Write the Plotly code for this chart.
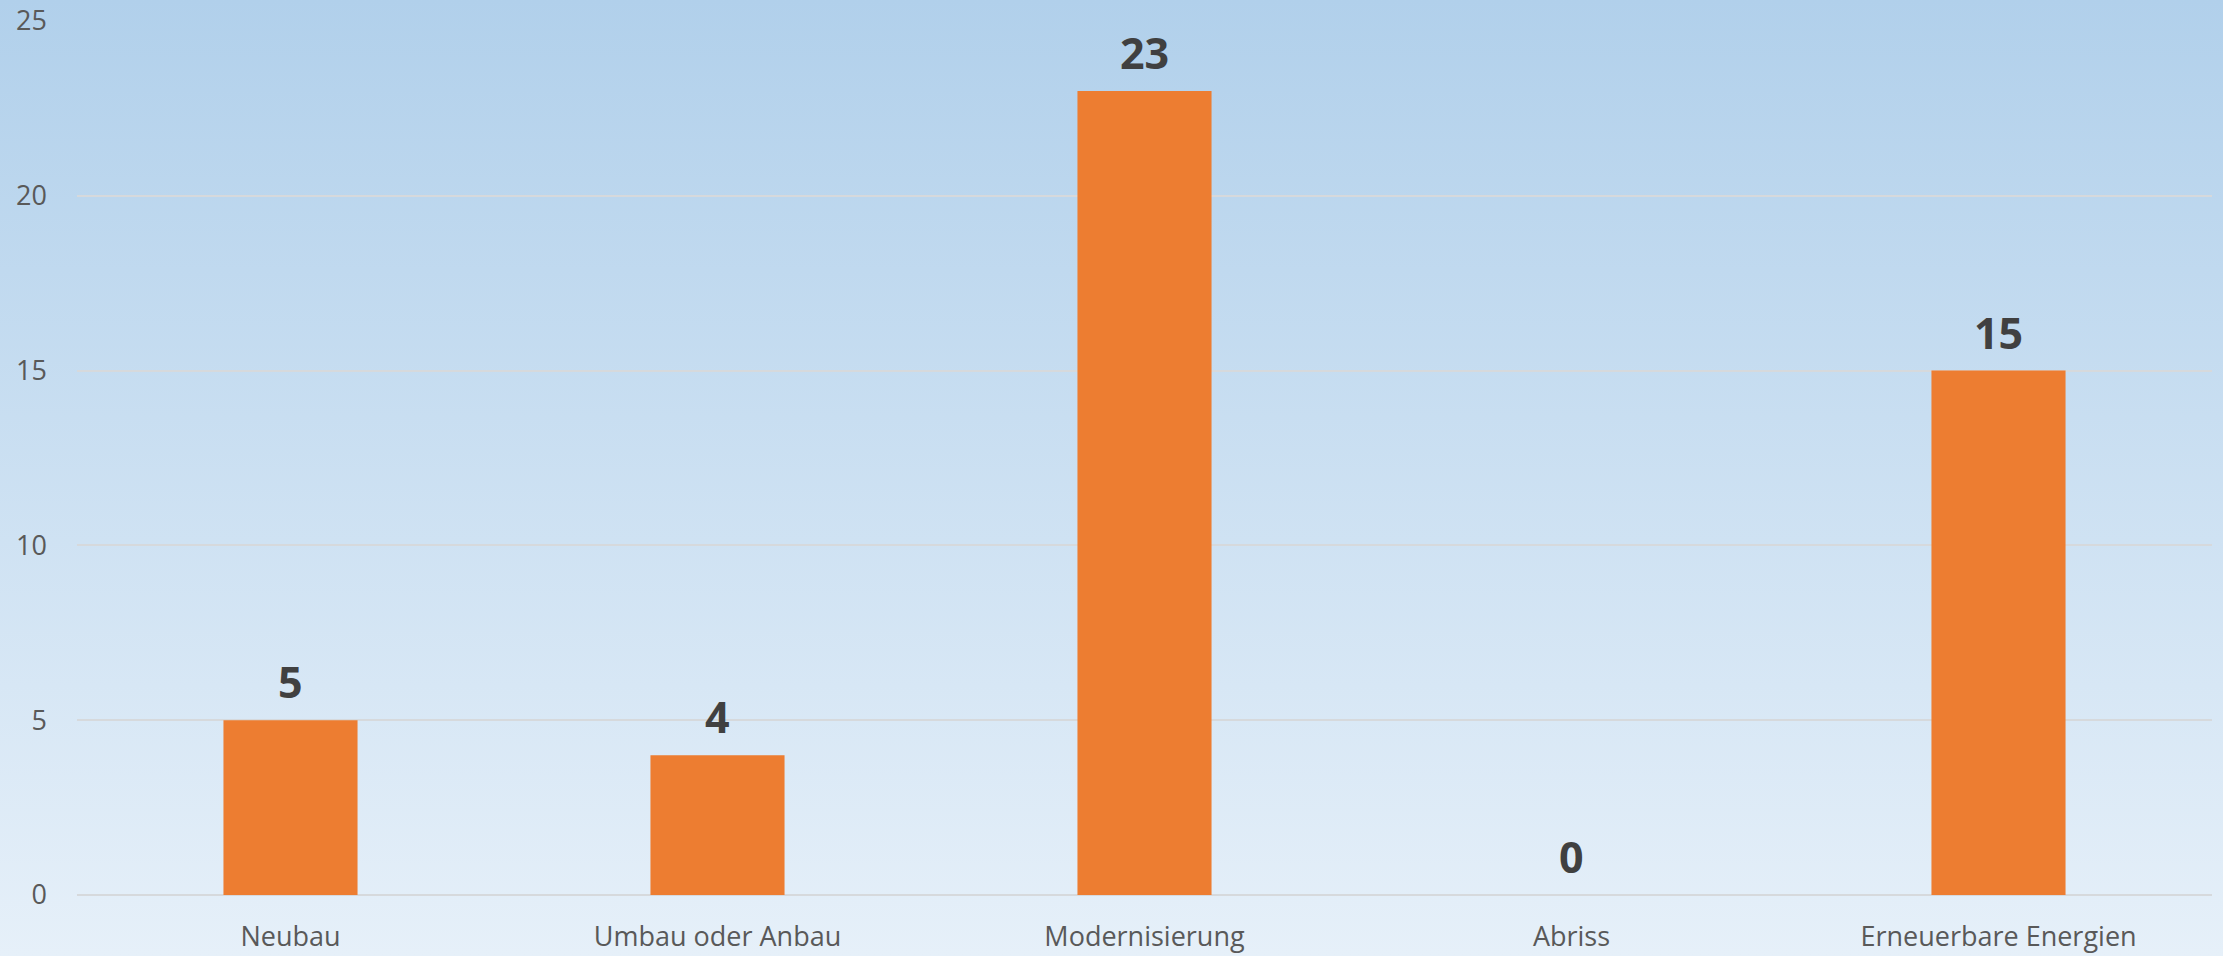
import plotly.graph_objects as go

categories = ["Neubau", "Umbau oder Anbau", "Modernisierung", "Abriss", "Erneuerbare Energien"]
values = [5, 4, 23, 0, 15]
y_ticks = [0, 5, 10, 15, 20, 25]

ml, mr, mt, mb = 77, 11, 21, 61

fig = go.Figure(
    go.Bar(
        x=categories,
        y=values,
        marker=dict(color="#ed7d31", line=dict(width=0)),
        width=0.314,
        hoverinfo="x+y",
    )
)

annotations = [
    dict(
        x=c,
        y=v,
        xref="x",
        yref="y",
        text=f"<b>{v}</b>",
        showarrow=False,
        yanchor="bottom",
        xanchor="center",
        yshift=7,
        font=dict(family="Open Sans", size=43, color="#404040"),
    )
    for c, v in zip(categories, values)
]

fig.update_layout(
    autosize=True,
    margin=dict(l=ml, r=mr, t=mt, b=mb, pad=0, autoexpand=False),
    paper_bgcolor="rgba(0,0,0,0)",
    plot_bgcolor="rgba(0,0,0,0)",
    showlegend=False,
    annotations=annotations,
    font=dict(family="Open Sans", color="#595959"),
)

fig.update_xaxes(
    automargin=False,
    showgrid=False,
    showline=False,
    zeroline=False,
    ticks="",
    tickfont=dict(size=27, color="#595959"),
    ticklabelstandoff=23,
)
fig.update_yaxes(
    automargin=False,
    range=[0, 25],
    tickvals=y_ticks,
    showgrid=True,
    gridcolor="#d6d9dc",
    gridwidth=2,
    zeroline=True,
    zerolinecolor="#d6d9dc",
    zerolinewidth=2,
    showline=False,
    ticks="",
    tickfont=dict(size=27, color="#595959"),
    ticklabelstandoff=29,
)

post = """
var s = document.createElement('style');
s.textContent = 'html,body{margin:0;padding:0;width:100%;height:100%;overflow:hidden;'
  + 'background:linear-gradient(to bottom,#b1d0eb 0%,#e6f0f9 100%);}';
document.head.appendChild(s);
var gd = document.getElementById('{plot_id}');
gd.style.width = '100vw';
gd.style.height = '100vh';
Plotly.Plots.resize(gd);
"""

fig.write_html(
    "out.html",
    default_width="100vw",
    default_height="100vh",
    config={"displayModeBar": False, "responsive": True},
    post_script=post,
)
